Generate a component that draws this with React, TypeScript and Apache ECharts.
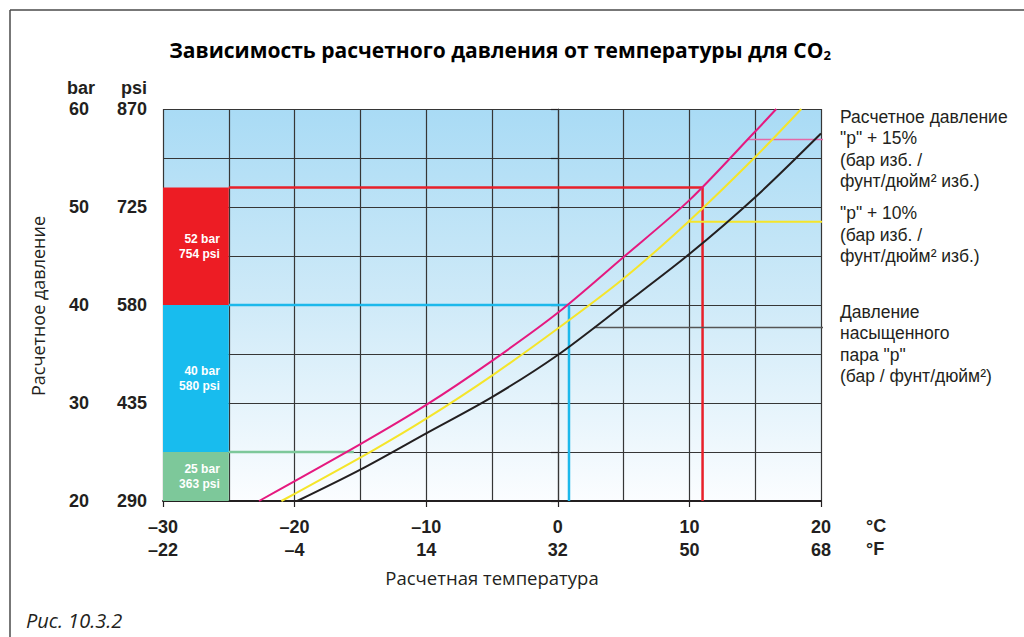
import React, { useEffect, useRef } from 'react';
import * as echarts from 'echarts';

// Axis tick labels
const xTicksC = [-30, -20, -10, 0, 10, 20];
const xTicksF = [-22, -4, 14, 32, 50, 68];
const barTicks = [20, 30, 40, 50, 60];
const psiTicks = [290, 435, 580, 725, 870];

// Curves (temperature °C, pressure bar)
const satTemp = [-19.8, -15, -10, -5, 0, 5, 10, 15, 20];
const satPress = [20.0, 23.2, 26.9, 30.6, 34.9, 40.0, 45.2, 51.0, 57.5];
const p10Temp = [-21.0, -14, -10, -5, 0, 5, 10, 15, 18.5];
const p10Press = [20.0, 25.2, 28.4, 32.8, 37.6, 42.7, 48.6, 55.1, 60];
const p15Temp = [-22.7, -15, -10, -5, 0, 5, 10, 15, 16.6];
const p15Press = [20.0, 25.8, 29.8, 34.3, 39.2, 44.9, 50.7, 57.7, 60];

// Design pressure blocks
const blockTop = [52, 40, 25];
const blockBottom = [40, 25, 20];
const blockPsi = [754, 580, 363];
const blockColors = ['#ed1c24', '#18bcee', '#7dc89a'];

// Guide lines
const redGuide = [[-25, 52], [11, 52], [11, 20]];
const blueGuide = [[-25, 40], [0.85, 40], [0.85, 20]];
const greenGuide = [[-25, 25], [-15.5, 25]];

// Legend leader lines
const p15Leader = [[14.4, 56.9], [21.1, 56.9]];
const p10Leader = [[9.9, 48.5], [21.1, 48.5]];
const satLeader = [[2.75, 37.7], [21.1, 37.7]];

// Right-hand legend texts
const legendP15 = ['Расчетное давление', '"p" + 15%', '(бар изб. /', 'фунт/дюйм² изб.)'];
const legendP10 = ['"p" + 10%', '(бар изб. /', 'фунт/дюйм² изб.)'];
const legendSat = ['Давление', 'насыщенного', 'пара "p"', '(бар / фунт/дюйм²)'];

const zip = (a: number[], b: number[]) => a.map((v, i) => [v, b[i]]);
const dash = (v: number) => (v < 0 ? '\u2013' + Math.abs(v) : String(v));

export default function App() {
  const ref = useRef<HTMLDivElement>(null);
  useEffect(() => {
    if (!ref.current) return;
    const chart = echarts.init(ref.current, null, { renderer: 'svg' });
    const labelFont = "'Liberation Sans', Arial, sans-serif";
    const narrowFont = "'Liberation Sans Narrow', 'Liberation Sans', Arial, sans-serif";
    const txtFont = "'Open Sans', 'Noto Sans', sans-serif";

    const lineSeries = (name: string, data: number[][], color: string, width: number, smooth = 0, clip = true, z = 3) => ({
      name,
      type: 'line',
      data,
      symbol: 'none',
      smooth,
      clip,
      z,
      lineStyle: { color, width },
      silent: true,
    });

    const legendTexts = (lines: string[], firstCenterY: number) =>
      lines.map((t, i) => ({
        type: 'text',
        x: 840,
        y: firstCenterY + i * 21.5,
        style: { text: t, align: 'left', verticalAlign: 'middle', fontFamily: labelFont, fontSize: 17.5, fill: '#231f20' },
      }));

    const option: any = {
      animation: false,
      backgroundColor: '#ffffff',
      grid: {
        left: 163,
        top: 109,
        width: 658,
        height: 392,
        show: true,
        borderWidth: 0,
        backgroundColor: {
          type: 'linear',
          x: 0, y: 0, x2: 0, y2: 1,
          colorStops: [
            { offset: 0, color: '#a9dbf5' },
            { offset: 0.5, color: '#cfeaf8' },
            { offset: 1, color: '#fbfdff' },
          ],
        },
      },
      xAxis: {
        type: 'value',
        min: -30,
        max: 20,
        interval: 10,
        splitNumber: 5,
        axisLine: { show: true, onZero: false, lineStyle: { color: '#231f20', width: 2 } },
        axisTick: { show: true, length: 6, inside: false, lineStyle: { color: '#231f20', width: 1.2 } },
        splitLine: { show: true, lineStyle: { color: '#363636', width: 1.2 } },
        minorTick: { show: false, splitNumber: 2 },
        minorSplitLine: { show: true, lineStyle: { color: '#363636', width: 1.2 } },
        axisLabel: {
          margin: 14,
          formatter: (v: number) => {
            const i = xTicksC.indexOf(v);
            if (i < 0) return '';
            return `{c|${dash(v)}}\n{f|${dash(xTicksF[i])}}`;
          },
          rich: {
            c: { fontFamily: narrowFont, fontWeight: 'bold', fontSize: 18, color: '#231f20', lineHeight: 23 },
            f: { fontFamily: narrowFont, fontWeight: 'bold', fontSize: 18, color: '#231f20', lineHeight: 23 },
          },
        },
        name: 'Расчетная температура',
        nameLocation: 'middle',
        nameGap: 67,
        nameTextStyle: { fontFamily: txtFont, fontSize: 18.5, color: '#231f20' },
      },
      yAxis: {
        type: 'value',
        min: 20,
        max: 60,
        interval: 5,
        axisLine: { show: true, lineStyle: { color: '#363636', width: 1.2 } },
        axisTick: { show: true, length: 7, lineStyle: { color: '#231f20', width: 1.2 } },
        splitLine: { show: true, lineStyle: { color: '#363636', width: 1.2 } },
        axisLabel: {
          margin: 16,
          formatter: (v: number) => {
            const i = barTicks.indexOf(v);
            if (i < 0) return '';
            return `{b|${v}}{p|${psiTicks[i]}}`;
          },
          rich: {
            b: { fontFamily: labelFont, fontWeight: 'bold', fontSize: 18, color: '#231f20' },
            p: { fontFamily: labelFont, fontWeight: 'bold', fontSize: 18, color: '#231f20', width: 58, align: 'right' },
          },
        },
      },
      graphic: [
        { type: 'line', shape: { x1: 10, y1: 10, x2: 1024, y2: 10 }, style: { stroke: '#4a4a4a', lineWidth: 1.5 } },
        { type: 'line', shape: { x1: 10, y1: 10, x2: 10, y2: 637 }, style: { stroke: '#4a4a4a', lineWidth: 1.5 } },
        {
          type: 'text', x: 500, y: 50,
          style: {
            text: '{a|Зависимость расчетного давления от температуры для CO}{s|2}',
            align: 'center', verticalAlign: 'middle',
            rich: {
              a: { fontFamily: txtFont, fontWeight: 'bold', fontSize: 21, color: '#231f20', lineHeight: 26 },
              s: { fontFamily: txtFont, fontWeight: 'bold', fontSize: 13, color: '#231f20', lineHeight: 26, padding: [10, 0, 0, 0] },
            },
          },
        },
        { type: 'text', x: 81, y: 88, style: { text: 'bar', align: 'center', verticalAlign: 'middle', fontFamily: labelFont, fontWeight: 'bold', fontSize: 18, fill: '#231f20' } },
        { type: 'text', x: 147, y: 88, style: { text: 'psi', align: 'right', verticalAlign: 'middle', fontFamily: labelFont, fontWeight: 'bold', fontSize: 18, fill: '#231f20' } },
        { type: 'text', x: 866, y: 526, style: { text: '°C', align: 'left', verticalAlign: 'middle', fontFamily: narrowFont, fontWeight: 'bold', fontSize: 18, fill: '#231f20' } },
        { type: 'text', x: 866, y: 549, style: { text: '°F', align: 'left', verticalAlign: 'middle', fontFamily: narrowFont, fontWeight: 'bold', fontSize: 18, fill: '#231f20' } },
        { type: 'text', x: 38, y: 306, rotation: Math.PI / 2, style: { text: 'Расчетное давление', align: 'center', verticalAlign: 'middle', fontFamily: txtFont, fontSize: 18, fill: '#231f20' } },
        ...legendTexts(legendP15, 116.5),
        ...legendTexts(legendP10, 213),
        ...legendTexts(legendSat, 311.5),
        { type: 'text', x: 26, y: 620, style: { text: 'Рис. 10.3.2', align: 'left', verticalAlign: 'middle', fontFamily: txtFont, fontStyle: 'italic', fontSize: 20, fill: '#231f20' } },
      ],
      series: [
        {
          type: 'line',
          data: [],
          z: 2,
          markArea: {
            silent: true,
            data: blockTop.map((top, i) => [
              {
                xAxis: -30,
                yAxis: top,
                itemStyle: { color: blockColors[i], opacity: 1 },
                label: {
                  show: true,
                  position: 'insideRight',
                  distance: 9,
                  formatter: `${top} bar\n${blockPsi[i]} psi`,
                  color: '#ffffff',
                  fontFamily: labelFont,
                  fontWeight: 'bold',
                  fontSize: 12,
                  lineHeight: 15,
                  align: 'right',
                },
              },
              { xAxis: -25, yAxis: blockBottom[i] },
            ]),
          },
        },
        lineSeries('red', redGuide, '#e8202a', 2.5),
        lineSeries('blue', blueGuide, '#1cb8eb', 2.5),
        lineSeries('green', greenGuide, '#7dc89a', 2.5),
        lineSeries('sat', zip(satTemp, satPress), '#231f20', 2, 0.3, true, 4),
        lineSeries('p10', zip(p10Temp, p10Press), '#f5e52a', 2, 0.3, true, 4),
        lineSeries('p15', zip(p15Temp, p15Press), '#e5197f', 2, 0.3, true, 4),
        lineSeries('p15leader', p15Leader, '#e568a8', 1.5, 0, false),
        lineSeries('p10leader', p10Leader, '#f5e52a', 2, 0, false),
        lineSeries('satleader', satLeader, '#555555', 1.5, 0, false),
      ],
    };
    chart.setOption(option);
    return () => chart.dispose();
  }, []);
  return <div ref={ref} style={{ position: 'fixed', left: 0, top: 0, width: 1024, height: 637 }} />;
}
